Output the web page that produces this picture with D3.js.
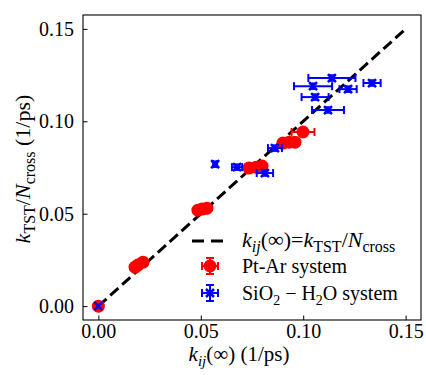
<!DOCTYPE html>
<html>
<head>
<meta charset="utf-8">
<script src="https://cdn.jsdelivr.net/npm/d3@7"></script>
<style>
  body { margin: 0; background: #fff; }
  text { font-family: "Liberation Serif", serif; fill: #000; }
</style>
</head>
<body>
<div id="chart"></div>
<script>
var width = 426,
    height = 375;

var margin = {left: 83, right: 5, top: 15, bottom: 55};

// Pt-Ar system
var ptX    = [0, 0.0179, 0.0193, 0.0218, 0.0486, 0.0506, 0.0530, 0.0735, 0.0770, 0.0799, 0.0901, 0.0931, 0.0960, 0.0999];
var ptY    = [0, 0.0211, 0.0222, 0.0238, 0.0519, 0.0525, 0.0530, 0.0747, 0.0752, 0.0758, 0.0882, 0.0887, 0.0887, 0.0942];
var ptXErr = [0, 0.001, 0.001, 0.001, 0.001, 0.001, 0.001, 0.002, 0.002, 0.002, 0.002, 0.002, 0.002, 0.0056];
var ptYErr = [0, 0.001, 0.001, 0.001, 0.001, 0.001, 0.001, 0.001, 0.001, 0.001, 0.001, 0.001, 0.001, 0.001];

// SiO2 - H2O system
var siX    = [0, 0.0570, 0.0677, 0.0813, 0.0862, 0.1048, 0.1140, 0.1219, 0.1336, 0.1058, 0.1121];
var siY    = [0, 0.0768, 0.0752, 0.0720, 0.0855, 0.1190, 0.1234, 0.1174, 0.1207, 0.1131, 0.1061];
var siXErr = [0, 0.0010, 0.0025, 0.0040, 0.0034, 0.0093, 0.0115, 0.0042, 0.0042, 0.0066, 0.0078];
var siYErr = [0, 0.0015, 0.0015, 0.0015, 0.0015, 0.0015, 0.0015, 0.0015, 0.0015, 0.0015, 0.0015];

// y = x reference line
var lineX = [0, 0.15];

var tickValues = [0, 0.05, 0.10, 0.15];
var limits = [-0.0075, 0.1575];

var red = '#ff0000',
    blue = '#0000ff';

var svg = d3.select('#chart').append('svg')
    .attr('width', width)
    .attr('height', height);

var x = d3.scaleLinear()
    .domain(limits)
    .range([margin.left, width - margin.right]);

var y = d3.scaleLinear()
    .domain(limits)
    .range([height - margin.bottom, margin.top]);

// text with italic / subscript pieces: [text, italic, sub]
function rich(sel, parts, subSize) {
    var shift = 0;
    parts.forEach(function(p) {
        var ts = sel.append('tspan').text(p[0]);
        if (p[1]) ts.style('font-style', 'italic');
        var target = p[2] ? 5 : 0;
        if (target != shift) ts.attr('dy', target - shift);
        shift = target;
        if (p[2]) ts.attr('font-size', subSize);
    });
}

// axes ticks, inward, left and bottom only
var xAxis = d3.axisBottom(x)
    .tickValues(tickValues)
    .tickSize(-4.5)
    .tickPadding(6)
    .tickFormat(d3.format('.2f'));

var yAxis = d3.axisLeft(y)
    .tickValues(tickValues)
    .tickSize(-4.5)
    .tickPadding(9)
    .tickFormat(d3.format('.2f'));

var gx = svg.append('g')
    .attr('transform', 'translate(0,' + (height - margin.bottom) + ')')
    .call(xAxis);

var gy = svg.append('g')
    .attr('transform', 'translate(' + margin.left + ',0)')
    .call(yAxis);

[gx, gy].forEach(function(g) {
    g.select('.domain').remove();
    g.selectAll('line').attr('stroke', '#000').attr('stroke-width', 1);
    g.selectAll('text')
        .attr('font-family', 'Liberation Serif')
        .attr('font-size', 20)
        .attr('fill', '#000');
});
gx.selectAll('text').attr('y', 4).attr('dy', '0.7em');

// dashed y = x line
var line = d3.line()
    .x(function(d) { return x(d); })
    .y(function(d) { return y(d); });

svg.append('path')
    .datum(lineX)
    .attr('d', line)
    .attr('fill', 'none')
    .attr('stroke', '#000')
    .attr('stroke-width', 3)
    .attr('stroke-dasharray', '11,5');

// error bars
function errorBars(g, xs, ys, xe, ye, color) {
    var cap = 4;
    xs.forEach(function(xv, i) {
        var cx = x(xv), cy = y(ys[i]);
        var x0 = x(xv - xe[i]), x1 = x(xv + xe[i]);
        var y0 = y(ys[i] - ye[i]), y1 = y(ys[i] + ye[i]);
        if (xe[i] > 0) {
            g.append('line').attr('x1', x0).attr('x2', x1).attr('y1', cy).attr('y2', cy);
            g.append('line').attr('x1', x0).attr('x2', x0).attr('y1', cy - cap).attr('y2', cy + cap);
            g.append('line').attr('x1', x1).attr('x2', x1).attr('y1', cy - cap).attr('y2', cy + cap);
        }
        if (ye[i] > 0) {
            g.append('line').attr('x1', cx).attr('x2', cx).attr('y1', y0).attr('y2', y1);
            g.append('line').attr('x1', cx - cap).attr('x2', cx + cap).attr('y1', y0).attr('y2', y0);
            g.append('line').attr('x1', cx - cap).attr('x2', cx + cap).attr('y1', y1).attr('y2', y1);
        }
    });
    g.selectAll('line').attr('stroke', color).attr('stroke-width', 2);
}

function legendBars(g, cx, cy, color) {
    var h = 8, cap = 4;
    g.append('line').attr('x1', cx - h).attr('x2', cx + h).attr('y1', cy).attr('y2', cy);
    g.append('line').attr('x1', cx - h).attr('x2', cx - h).attr('y1', cy - cap).attr('y2', cy + cap);
    g.append('line').attr('x1', cx + h).attr('x2', cx + h).attr('y1', cy - cap).attr('y2', cy + cap);
    g.append('line').attr('x1', cx).attr('x2', cx).attr('y1', cy - h).attr('y2', cy + h);
    g.append('line').attr('x1', cx - cap).attr('x2', cx + cap).attr('y1', cy - h).attr('y2', cy - h);
    g.append('line').attr('x1', cx - cap).attr('x2', cx + cap).attr('y1', cy + h).attr('y2', cy + h);
    g.selectAll('line').attr('stroke', color).attr('stroke-width', 2);
}

function xMarks(g, pts, s) {
    g.selectAll('path.xm')
        .data(pts)
        .enter().append('path')
        .attr('class', 'xm')
        .attr('d', function(d) {
            return 'M' + (d[0] - s) + ',' + (d[1] - s) + 'L' + (d[0] + s) + ',' + (d[1] + s) +
                   'M' + (d[0] - s) + ',' + (d[1] + s) + 'L' + (d[0] + s) + ',' + (d[1] - s);
        })
        .attr('stroke', blue)
        .attr('stroke-width', 2.5)
        .attr('fill', 'none');
}

// Pt-Ar
var ptG = svg.append('g');
errorBars(ptG.append('g'), ptX, ptY, ptXErr, ptYErr, red);
ptG.selectAll('circle')
    .data(ptX)
    .enter().append('circle')
    .attr('cx', function(d) { return x(d); })
    .attr('cy', function(d, i) { return y(ptY[i]); })
    .attr('r', 6.5)
    .attr('fill', red);

// SiO2 - H2O
var siG = svg.append('g');
errorBars(siG.append('g'), siX, siY, siXErr, siYErr, blue);
xMarks(siG, siX.map(function(d, i) { return [x(d), y(siY[i])]; }), 4);

// frame
svg.append('rect')
    .attr('x', margin.left)
    .attr('y', margin.top)
    .attr('width', width - margin.left - margin.right)
    .attr('height', height - margin.top - margin.bottom)
    .attr('fill', 'none')
    .attr('stroke', '#000')
    .attr('stroke-width', 1.1);

// axis labels
var xl = svg.append('text')
    .attr('x', 239)
    .attr('y', 361)
    .attr('text-anchor', 'middle')
    .attr('font-size', 21);
rich(xl, [['k', true], ['ij', true, true], ['(\u221e) (1/ps)']], 15);

var yl = svg.append('text')
    .attr('transform', 'translate(30,169) rotate(-90)')
    .attr('text-anchor', 'middle')
    .attr('font-size', 22);
rich(yl, [['k', true], ['TST', false, true], ['/'], ['N', true], ['cross', false, true], [' (1/ps)']], 16);

// legend
var leg = svg.append('g');
leg.append('line')
    .attr('x1', 192).attr('x2', 225)
    .attr('y1', 241).attr('y2', 241)
    .attr('stroke', '#000')
    .attr('stroke-width', 3)
    .attr('stroke-dasharray', '12,7');

var l1 = leg.append('text').attr('x', 242).attr('y', 247).attr('font-size', 22);
rich(l1, [['k', true], ['ij', true, true], ['(\u221e)='], ['k', true], ['TST', false, true], ['/'], ['N', true], ['cross', false, true]], 16);

legendBars(leg.append('g'), 210, 266, red);
leg.append('circle').attr('cx', 210).attr('cy', 266).attr('r', 6.5).attr('fill', red);
leg.append('text').attr('x', 242).attr('y', 273).attr('font-size', 20).text('Pt-Ar system');

legendBars(leg.append('g'), 210, 293, blue);
xMarks(leg, [[210, 293]], 4);
var l3 = leg.append('text').attr('x', 242).attr('y', 300).attr('font-size', 20);
rich(l3, [['SiO'], ['2', false, true], [' \u2212 H'], ['2', false, true], ['O system']], 14);
</script>
</body>
</html>
